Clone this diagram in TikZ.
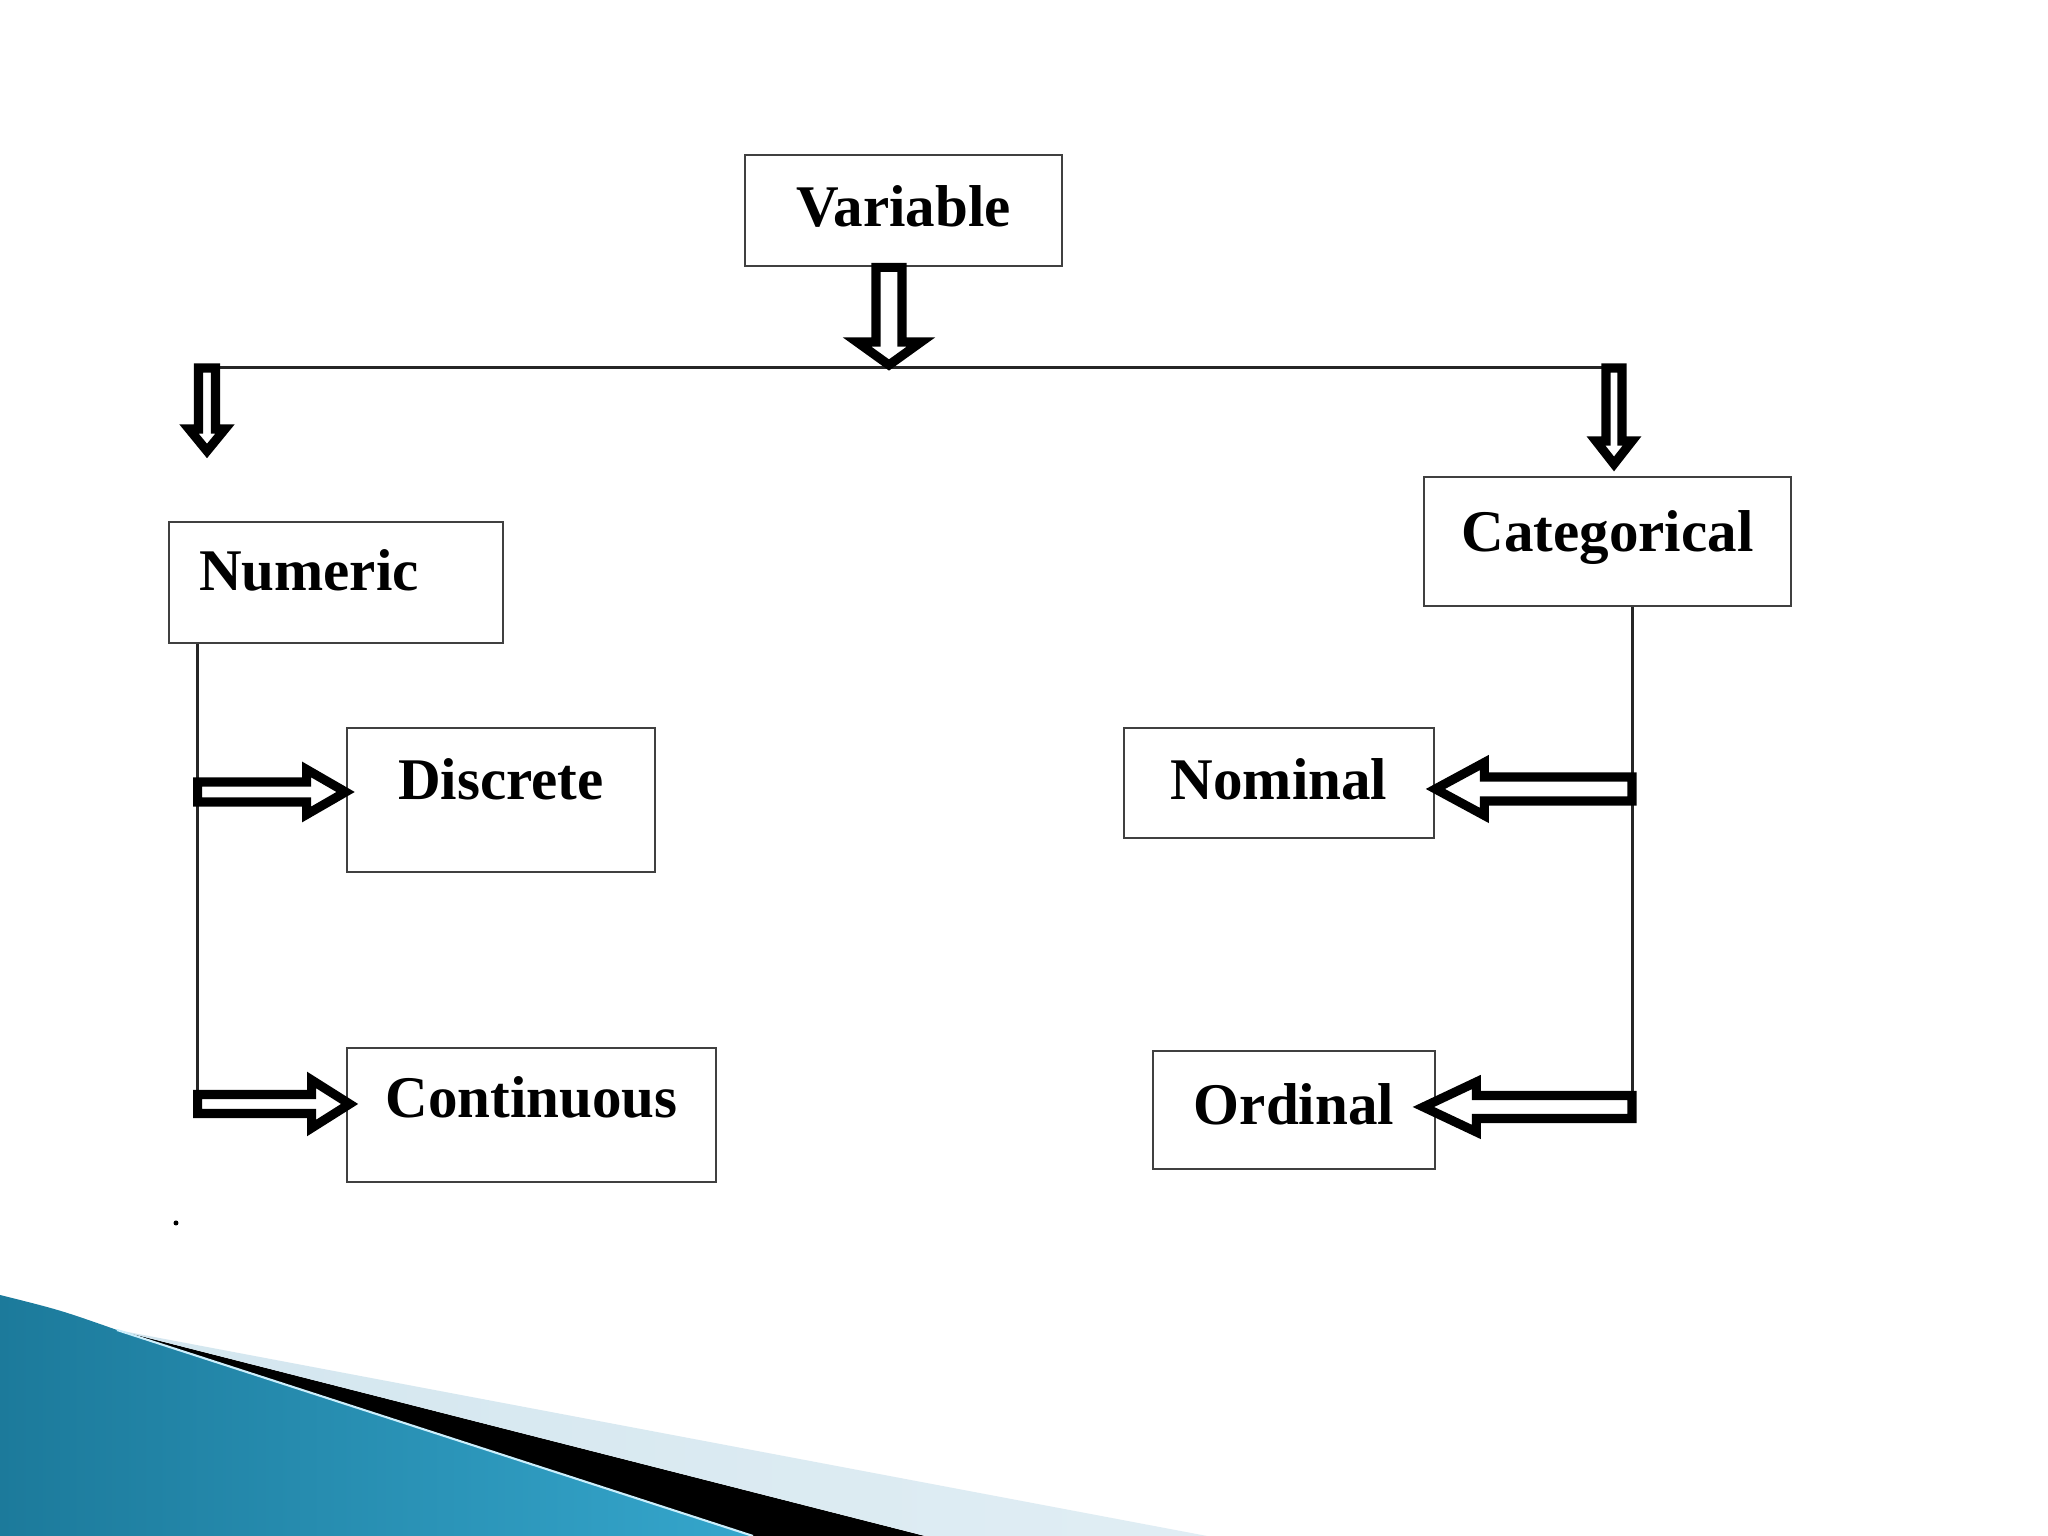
\documentclass[tikz,border=0pt]{standalone}
\usepackage{fontspec}
\setmainfont{Liberation Serif}
\usepackage{tikz}
\usetikzlibrary{calc}

\definecolor{tealdark}{HTML}{1C7A9B}
\definecolor{teallight}{HTML}{5EC2E3}
\definecolor{tealmid}{HTML}{35A6CC}
\definecolor{paleblue}{HTML}{D3E6EF}

\tikzset{
  box/.style={draw=black!75, line width=0.8pt, inner sep=0pt, text height=0.42cm,
    font=\bfseries\fontsize{16.8}{20}\selectfont},
  trunk/.style={draw=black!85, line width=0.85pt},
  hollow/.style n args={3}{draw=black, line width=2.6pt, fill=white, line join=miter,
    to path={let \p1=(\tikztostart), \p2=(\tikztotarget),
      \n1={atan2(\y2-\y1,\x2-\x1)}, \n2={veclen(\x2-\x1,\y2-\y1)} in
      ([shift={(\p1)},rotate=\n1]0pt,-#1)
      -- ([shift={(\p1)},rotate=\n1]{\n2*1pt-#3},-#1)
      -- ([shift={(\p1)},rotate=\n1]{\n2*1pt-#3},-#2)
      -- ([shift={(\p1)},rotate=\n1]{\n2*1pt},0pt)
      -- ([shift={(\p1)},rotate=\n1]{\n2*1pt-#3},#2)
      -- ([shift={(\p1)},rotate=\n1]{\n2*1pt-#3},#1)
      -- ([shift={(\p1)},rotate=\n1]0pt,#1) -- cycle}}
}

\begin{document}
\begin{tikzpicture}

% Page
\fill[white] (0,0) rectangle (20.48,15.36);
\useasboundingbox (0,0) rectangle (20.48,15.36);

% Corner swoosh
\shade[left color=tealdark, middle color=teallight, right color=tealmid]
  (0,2.41) .. controls (0.6,2.26) .. (1.17,2.06) -- (7.53,0) -- (0,0) -- cycle;
\fill[black] (1.17,2.06) -- (9.25,0) -- (7.53,0) -- cycle;
\shade[left color=paleblue, right color=paleblue!70!white]
  (1.17,2.06) -- (12.07,0) -- (9.25,0) -- cycle;
\draw[cyan!20, line width=0.6pt] (1.17,2.06) -- (7.53,0);

% Boxes
\node[box, minimum width=3.17cm, minimum height=1.11cm, text depth=0.09cm] (variable) at (9.035,13.255) {Variable};
\node[box, minimum width=3.34cm, minimum height=1.21cm, text depth=0.25cm, text width=2.74cm, align=left] (numeric) at (3.36,9.535) {Numeric};
\node[box, minimum width=3.67cm, minimum height=1.29cm, text depth=0.21cm] (categorical) at (16.075,9.945) {Categorical};
\node[box, minimum width=3.08cm, minimum height=1.44cm, text depth=0.42cm] (discrete) at (5.01,7.36) {Discrete};
\node[box, minimum width=3.69cm, minimum height=1.34cm, text depth=0.36cm] (continuous) at (5.315,4.21) {Continuous};
\node[box, minimum width=3.10cm, minimum height=1.10cm, text depth=0.08cm] (nominal) at (12.79,7.53) {Nominal};
\node[box, minimum width=2.82cm, minimum height=1.18cm, text depth=0.12cm] (ordinal) at (12.94,4.26) {Ordinal};

% Split line under the top box
\coordinate (hub) at (8.89,11.68);
\coordinate (hl) at (2.07,11.68);
\coordinate (hr) at (16.14,11.68);
\coordinate (ltip) at (2.07,10.85);
\coordinate (rtip) at (16.14,10.72);
\draw[trunk] (hl) -- (hr);

% Down arrows
\draw[hollow={0.13cm}{0.32cm}{0.23cm}] (variable.south -| hub) to ($(hub)+(0,0.03)$);
\draw[hollow={0.085cm}{0.18cm}{0.22cm}] (hl) to (ltip);
\draw[hollow={0.08cm}{0.18cm}{0.23cm}] (hr) to (rtip);

% Arrow ends at the lower boxes
\coordinate (dtip) at ($(discrete.west)+(0,0.08)$);
\coordinate (ctip) at ($(continuous.west)+(0.04,0.11)$);
\coordinate (ntip) at ($(nominal.east)+(0,-0.06)$);
\coordinate (otip) at ($(ordinal.east)+(-0.13,0.03)$);
\coordinate (nt) at ($(numeric.south west)+(0.3,0)$);
\coordinate (ct) at ($(categorical.south)+(0.245,0)$);

% Side lines
\draw[trunk] (nt) -- (nt |- ctip);
\draw[trunk] (ct) -- (ct |- otip);

% Side arrows
\draw[hollow={0.10cm}{0.225cm}{0.39cm}] (nt |- dtip) to (dtip);
\draw[hollow={0.095cm}{0.24cm}{0.38cm}] (nt |- ctip) to (ctip);
\draw[hollow={0.12cm}{0.265cm}{0.49cm}] (ct |- ntip) to (ntip);
\draw[hollow={0.115cm}{0.25cm}{0.53cm}] (ct |- otip) to (otip);

% Stray dot
\fill (1.76,3.13) circle (0.025);

\end{tikzpicture}
\end{document}
